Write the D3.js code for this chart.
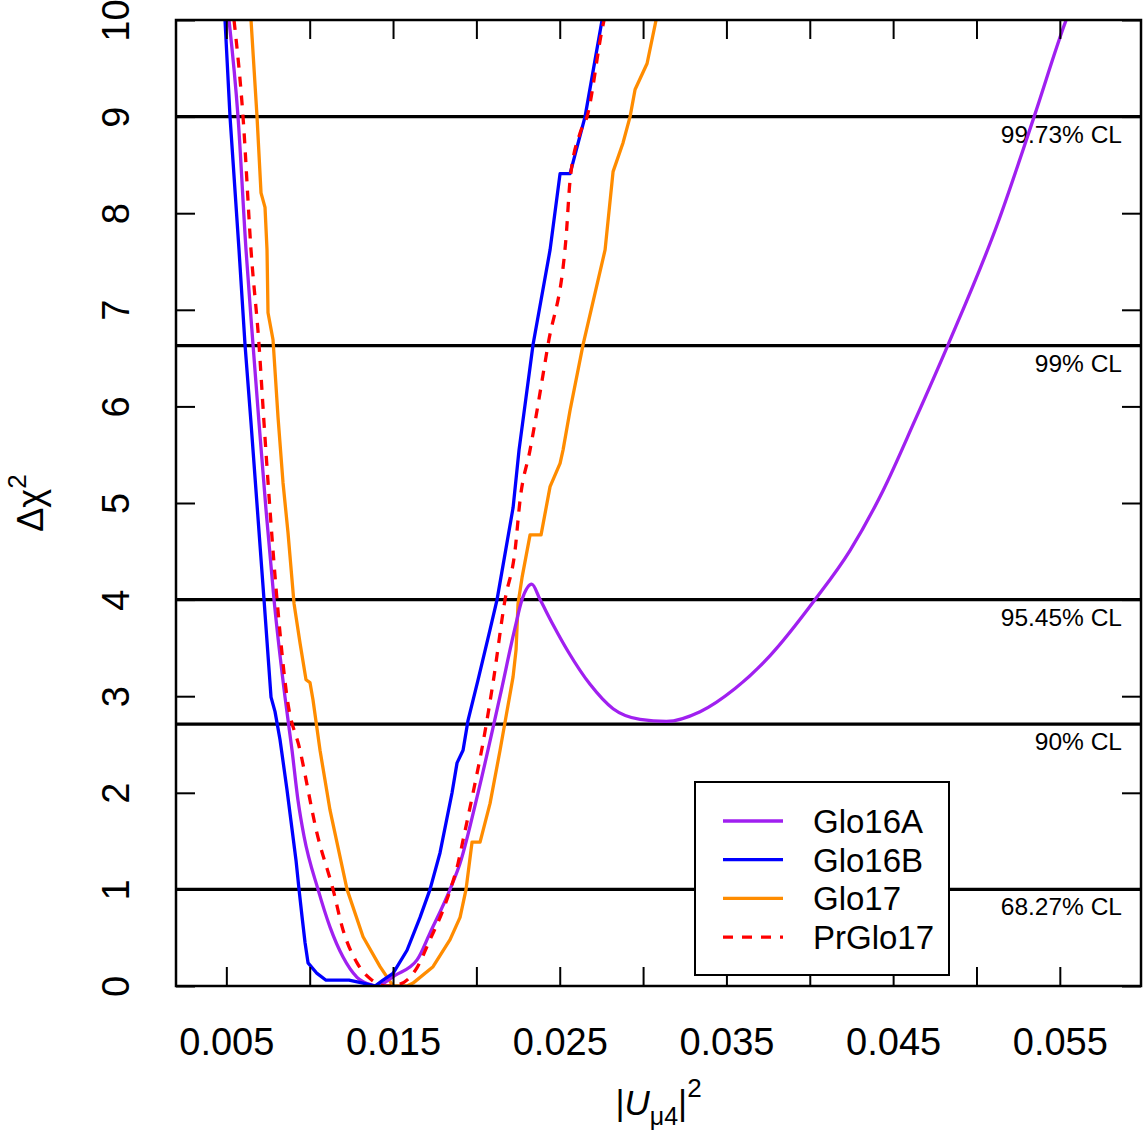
<!DOCTYPE html>
<html>
<head>
<meta charset="utf-8">
<script src="https://cdn.jsdelivr.net/npm/d3@7"></script>
<style>
  body { margin: 0; background: #fff; }
  svg { font-family: "Liberation Sans", Arial, Helvetica, sans-serif; }
</style>
</head>
<body>
<svg id="chart"></svg>
<script>
// chi2 profiles
var glo16aX = [0.00516,0.00570,0.00618,0.00660,0.00696,0.00738,0.00786,0.00852,0.00894,0.00930,0.00966,0.01050,0.01122,0.01200,0.01284,0.01374,0.01400,0.01512,0.01644,0.01722,0.01842,0.01902,0.02010,0.02142,0.02232,0.02274,0.02332,0.02382,0.02460,0.02551,0.02683,0.02820,0.02982,0.03140,0.03342,0.03552,0.03762,0.04032,0.04242,0.04440,0.04632,0.04830,0.05124,0.05346,0.05538,0.05560]
var glo16aY = [10.0,9.0,7.62,6.64,5.83,4.93,4.0,2.99,2.44,1.92,1.55,1.0,0.61,0.30,0.09,0.01,0.0,0.11,0.27,0.55,1.0,1.27,2.0,3.0,3.71,4.0,4.16,4.0,3.74,3.46,3.12,2.87,2.76,2.74,2.84,3.08,3.42,4.0,4.51,5.13,5.86,6.64,7.88,9.0,10.0,10.1]

var glo16bX = [0.00492,0.00522,0.00576,0.00612,0.00648,0.00726,0.00768,0.00792,0.00822,0.00864,0.00918,0.00936,0.00954,0.00972,0.00990,0.01044,0.01098,0.01236,0.01320,0.01392,0.01440,0.01500,0.01584,0.01662,0.01722,0.01782,0.01854,0.01884,0.01920,0.01950,0.02010,0.02082,0.02124,0.02220,0.02256,0.02340,0.02442,0.02502,0.02562,0.02652,0.02754]
var glo16bY = [10.0,9.0,7.62,6.64,5.83,4.0,2.99,2.84,2.55,2.03,1.30,1.0,0.72,0.45,0.24,0.13,0.06,0.06,0.03,0.0,0.06,0.13,0.37,0.71,1.0,1.38,2.0,2.31,2.44,2.75,3.17,3.69,4.0,4.95,5.55,6.64,7.62,8.41,8.41,9.0,10.0]

var glo17X = [0.00648,0.00684,0.00708,0.00732,0.00744,0.00750,0.00780,0.00810,0.00840,0.00870,0.00906,0.00942,0.00978,0.01002,0.01020,0.01062,0.01122,0.01224,0.01320,0.01422,0.01500,0.01584,0.01620,0.01740,0.01842,0.01902,0.01938,0.01974,0.02022,0.02082,0.02142,0.02220,0.02238,0.02250,0.02274,0.02322,0.02388,0.02442,0.02502,0.02520,0.02562,0.02640,0.02772,0.02820,0.02880,0.02922,0.02952,0.03024,0.03078]
var glo17Y = [10.0,9.0,8.21,8.06,7.62,6.97,6.69,5.89,5.21,4.69,3.96,3.55,3.17,3.14,2.96,2.44,1.82,1.0,0.51,0.2,0.0,0.0,0.03,0.2,0.48,0.71,1.0,1.49,1.49,1.89,2.44,3.2,3.48,3.96,4.23,4.67,4.67,5.17,5.41,5.55,5.96,6.64,7.62,8.43,8.73,9.0,9.28,9.55,10.0]

var prglo17X = [0.00546,0.00600,0.00648,0.00696,0.00726,0.00804,0.00864,0.00942,0.01044,0.01140,0.01200,0.01284,0.01374,0.01464,0.01542,0.01644,0.01722,0.01794,0.01842,0.01890,0.01920,0.01980,0.02040,0.02100,0.02172,0.02232,0.02262,0.02322,0.02430,0.02538,0.02562,0.02622,0.02664,0.02754,0.02766]
var prglo17Y = [10.0,9.0,7.62,6.64,5.83,4.0,2.99,2.44,1.58,1.0,0.58,0.24,0.06,0.0,0.02,0.19,0.48,0.76,0.99,1.27,1.51,2.0,2.52,3.14,4.0,4.51,5.03,5.55,6.64,7.75,8.34,8.83,9.0,9.9,10.0]

var seriesNames = ["Glo16A", "Glo16B", "Glo17", "PrGlo17"]
var seriesColors = ["#A020F0", "#0000FF", "#FF8C00", "#FF0000"]
var seriesDash = [null, null, null, "10,9"]

var clLevels = [9.0, 6.63, 4.0, 2.71, 1.0]
var clLabels = ["99.73% CL", "99% CL", "95.45% CL", "90% CL", "68.27% CL"]

var xTicks = [0.005,0.01,0.015,0.02,0.025,0.03,0.035,0.04,0.045,0.05,0.055]
var xTickLabels = [0.005,0.015,0.025,0.035,0.045,0.055]
var yTicks = [0,1,2,3,4,5,6,7,8,9,10]

var screen = {width:1144, height:1136}
var margins = {top:20, bottom:150, left:176, right:3}
var graph = {
  width: screen.width-margins.left-margins.right,
  height: screen.height-margins.top-margins.bottom
}

var svg = d3.select("#chart")
  .attr("width", screen.width)
  .attr("height", screen.height)

var xScale = d3.scaleLinear()
  .domain([0.00198, 0.05987])
  .range([0, graph.width])
var yScale = d3.scaleLinear()
  .domain([0, 10])
  .range([graph.height, 0])

var g = svg.append("g")
  .attr("transform", "translate("+margins.left+","+margins.top+")")

g.append("clipPath").attr("id", "clip")
  .append("rect")
  .attr("width", graph.width)
  .attr("height", graph.height)

// confidence level lines
var cl = g.append("g").classed("cl", true)
cl.selectAll("line")
  .data(clLevels)
  .enter()
  .append("line")
  .attr("x1", 0)
  .attr("x2", graph.width)
  .attr("y1", function(d){return yScale(d)})
  .attr("y2", function(d){return yScale(d)})
  .attr("stroke", "#000")
  .attr("stroke-width", 3.2)
cl.selectAll("text")
  .data(clLevels)
  .enter()
  .append("text")
  .text(function(d,i){return clLabels[i]})
  .attr("text-anchor", "end")
  .attr("x", graph.width-19)
  .attr("y", function(d){return yScale(d)+26})
  .attr("font-size", 24.5)

// curves
var toPts = function(xs, ys)
{
  return xs.map(function(x, j){return [x, ys[j]]})
}
var lineLin = d3.line()
  .x(function(d){return xScale(d[0])})
  .y(function(d){return yScale(d[1])})
var lineSmooth = d3.line()
  .curve(d3.curveMonotoneX)
  .x(function(d){return xScale(d[0])})
  .y(function(d){return yScale(d[1])})

var curves = g.append("g").attr("clip-path", "url(#clip)")
var drawCurve = function(pts, i, gen)
{
  curves.append("path")
    .datum(pts)
    .attr("d", gen)
    .attr("fill", "none")
    .attr("stroke", seriesColors[i])
    .attr("stroke-width", 3.3)
    .attr("stroke-linejoin", "round")
    .attr("stroke-dasharray", seriesDash[i])
}

drawCurve(toPts(glo17X, glo17Y), 2, lineLin)
// Glo16A has a cusp at its local max, so smooth each side separately
var a = toPts(glo16aX, glo16aY)
var peak = 0
a.forEach(function(p, j){ if (p[0] > 0.02 && p[0] < 0.025 && p[1] > a[peak][1]) peak = j })
drawCurve(a.slice(0, peak+1), 0, lineSmooth)
drawCurve(a.slice(peak), 0, lineSmooth)
drawCurve(toPts(glo16bX, glo16bY), 1, lineLin)
drawCurve(toPts(prglo17X, prglo17Y), 3, lineSmooth)

// axes with inward ticks
var tickLen = 19
var xAxisB = d3.axisBottom(xScale).tickValues(xTicks).tickSizeInner(-tickLen).tickSizeOuter(0).tickPadding(42)
  .tickFormat(function(d){
    var hit = xTickLabels.some(function(v){return Math.abs(v-d) < 1e-9})
    return hit ? d3.format(".3f")(d) : ""
  })
var xAxisT = d3.axisTop(xScale).tickValues(xTicks).tickSizeInner(-tickLen).tickSizeOuter(0).tickFormat("")
var yAxisL = d3.axisLeft(yScale).tickValues(yTicks).tickSizeInner(-tickLen).tickSizeOuter(0)
var yAxisR = d3.axisRight(yScale).tickValues(yTicks).tickSizeInner(-tickLen).tickSizeOuter(0).tickFormat("")

var axB = g.append("g").attr("transform", "translate(0,"+graph.height+")").call(xAxisB)
var axT = g.append("g").call(xAxisT)
var axL = g.append("g").call(yAxisL)
var axR = g.append("g").attr("transform", "translate("+graph.width+",0)").call(yAxisR)

;[axB, axT, axL, axR].forEach(function(ax)
{
  ax.select(".domain").remove()
  ax.selectAll(".tick line").attr("stroke", "#000").attr("stroke-width", 2)
})
axB.selectAll("text")
  .attr("font-size", 38)
  .attr("fill", "#000")
  .attr("font-family", "Liberation Sans, Arial, sans-serif")
axL.selectAll("text")
  .attr("font-size", 38)
  .attr("fill", "#000")
  .attr("font-family", "Liberation Sans, Arial, sans-serif")
  .attr("text-anchor", "middle")
  .attr("x", null)
  .attr("dy", null)
  .attr("transform", "translate("+(129-margins.left)+",0) rotate(-90)")

// frame
g.append("rect")
  .attr("width", graph.width)
  .attr("height", graph.height)
  .attr("fill", "none")
  .attr("stroke", "#000")
  .attr("stroke-width", 2.5)

// legend
var legend = svg.append("g").attr("transform", "translate(695,782)")
legend.append("rect")
  .attr("width", 254)
  .attr("height", 193)
  .attr("fill", "#fff")
  .attr("stroke", "#000")
  .attr("stroke-width", 2)
var rows = legend.selectAll("g.row")
  .data(seriesNames)
  .enter()
  .append("g")
  .classed("row", true)
  .attr("transform", function(d,i){return "translate(0,"+(39+i*38.7)+")"})
rows.append("line")
  .attr("x1", 28).attr("x2", 88)
  .attr("stroke", function(d,i){return seriesColors[i]})
  .attr("stroke-width", 3.3)
  .attr("stroke-dasharray", function(d,i){return seriesDash[i]})
rows.append("text")
  .text(function(d){return d})
  .attr("x", 118)
  .attr("dy", "0.36em")
  .attr("font-size", 33)

// axis titles
var xt = svg.append("text")
  .attr("x", margins.left+graph.width/2)
  .attr("y", 1115)
  .attr("text-anchor", "middle")
  .attr("font-size", 35)
xt.append("tspan").text("|")
xt.append("tspan").text("U").attr("font-style", "italic")
xt.append("tspan").text("\u03bc4").attr("font-size", 25).attr("dy", 10)
xt.append("tspan").text("|").attr("dy", -10)
xt.append("tspan").text("2").attr("font-size", 26).attr("dy", -18)

var yt = svg.append("text")
  .attr("transform", "translate(43,"+(margins.top+graph.height/2)+") rotate(-90)")
  .attr("text-anchor", "middle")
  .attr("font-size", 36)
yt.append("tspan").text("\u0394\u03c7")
yt.append("tspan").text("2").attr("font-size", 26).attr("dy", -17)
</script>
</body>
</html>
